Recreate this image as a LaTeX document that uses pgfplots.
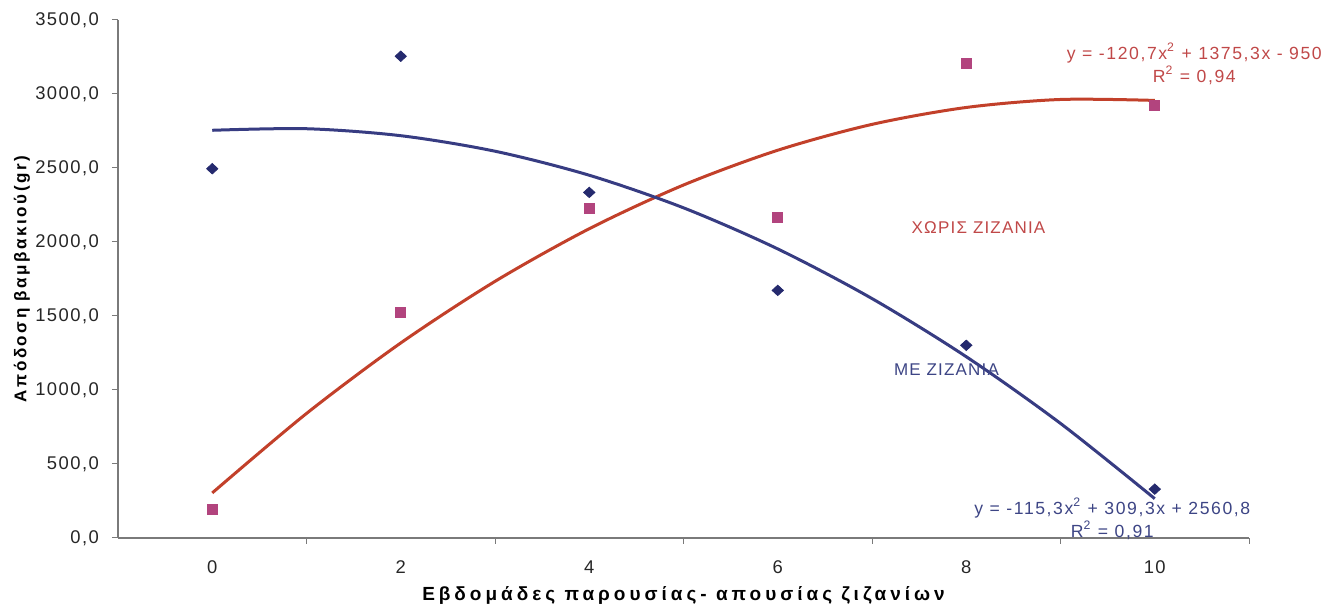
\documentclass[border=0pt]{standalone}
\usepackage{pgfplots}
\pgfplotsset{compat=1.18}
\usepackage{fontspec}
\setmainfont{Liberation Sans}
\newfontfamily\lblfont[LetterSpace=21]{Liberation Sans}
\newfontfamily\ylblfont[LetterSpace=15]{Liberation Sans}
\newfontfamily\tickfont[LetterSpace=8]{Liberation Sans}
\newfontfamily\eqfont[LetterSpace=9]{Liberation Sans}
\newfontfamily\notefont[LetterSpace=7]{Liberation Sans}

\definecolor{withcurve}{HTML}{373C82}
\definecolor{withmark}{HTML}{252A6E}
\definecolor{withtext}{HTML}{3D4585}
\definecolor{freecurve}{HTML}{C2402A}
\definecolor{freemark}{HTML}{B2447E}
\definecolor{freetext}{HTML}{C04848}
\definecolor{axisgray}{HTML}{7A7A7A}

\begin{document}
\begin{tikzpicture}
\begin{axis}[
  at={(0,0)}, anchor=south west,
  scale only axis,
  width=565.5pt, height=259pt,
  xmin=-1, xmax=11,
  ymin=0, ymax=3500,
  axis lines=left,
  axis line style={-, draw=axisgray, line width=0.6pt},
  tick align=outside,
  tick style={draw=axisgray, line width=0.5pt},
  major tick length=3pt,
  xtick={1,3,5,7,9,11},
  xticklabels={},
  extra x ticks={0,2,4,6,8,10},
  extra x tick labels={0,2,4,6,8,10},
  extra x tick style={major tick length=0pt},
  ytick={0,500,...,3500},
  yticklabel style={/pgf/number format/fixed, /pgf/number format/fixed zerofill,
    /pgf/number format/precision=1, /pgf/number format/use comma,
    /pgf/number format/1000 sep={}, xshift=-3pt},
  /pgf/number format/assume math mode=true,
  ticklabel style={font=\tickfont\fontsize{9.2}{10}\selectfont, text=black!85},
  xticklabel style={yshift=-8pt},
  xlabel={\lblfont\bfseries Εβδομάδες παρουσίας- απουσίας ζιζανίων},
  ylabel={\ylblfont\bfseries Απόδοση βαμβακιού(gr)},
  xlabel style={font=\fontsize{9.5}{10}\selectfont, at={(axis description cs:0.5,0)}, anchor=center, yshift=-28.5pt},
  ylabel style={font=\fontsize{8.5}{10}\selectfont, at={(axis description cs:-0.085,0.5)}, anchor=center},
  clip=false,
]
% second-order trend lines, sampled at each week
\addplot[freecurve, line width=1.5pt, smooth] coordinates {
  (0,304.6) (1,841.4) (2,1317.8) (3,1733.9) (4,2089.6) (5,2385.0)
  (6,2620.0) (7,2794.7) (8,2909.0) (9,2963.0) (10,2956.6)};
\addplot[withcurve, line width=1.5pt, smooth] coordinates {
  (0,2754.8) (1,2765.3) (2,2718.2) (3,2613.4) (4,2451.0) (5,2230.9)
  (6,1953.2) (7,1617.8) (8,1224.8) (9,774.1) (10,265.8)};
% measured yields
\addplot[only marks, mark=square*, mark size=2.5pt, color=freemark] coordinates {
  (0,190) (2,1525) (4,2230) (6,2165) (8,3205) (10,2920)};
\addplot[only marks, mark=diamond*, mark size=2.6pt, mark options={xscale=1.45}, color=withmark] coordinates {
  (0,2495) (2,3255) (4,2335) (6,1673) (8,1302) (10,330)};
% annotations
\node[text=freetext, font=\eqfont\fontsize{8.8}{11.5}\selectfont, align=center] at (axis cs:10.42,3205)
  {y = -120,7x\textsuperscript{2} + 1375,3x - 950\\ R\textsuperscript{2} = 0,94};
\node[text=withtext, font=\eqfont\fontsize{8.8}{11.5}\selectfont, align=center] at (axis cs:9.55,130)
  {y = -115,3x\textsuperscript{2} + 309,3x + 2560,8\\ R\textsuperscript{2} = 0,91};
\node[text=freetext, font=\notefont\fontsize{8.5}{10}\selectfont] at (axis cs:8.13,2095) {ΧΩΡΙΣ ΖΙΖΑΝΙΑ};
\node[text=withtext, font=\notefont\fontsize{8.5}{10}\selectfont] at (axis cs:7.79,1135) {ΜΕ ΖΙΖΑΝΙΑ};
\end{axis}
\useasboundingbox (-59pt,-38pt) rectangle (606.5pt,269pt);
\end{tikzpicture}
\end{document}
